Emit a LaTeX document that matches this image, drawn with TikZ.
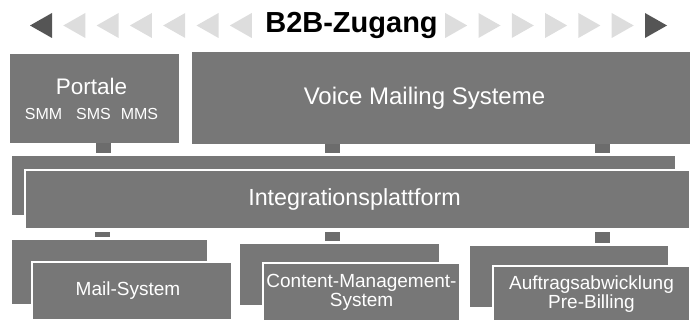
\documentclass[tikz,border=0pt]{standalone}
\usepackage{fontspec}
\setmainfont{Liberation Sans}
\usetikzlibrary{positioning, calc}
\definecolor{box-gray}{RGB}{119,119,119}
\definecolor{link-gray}{RGB}{108,108,108}
\definecolor{arrow-light}{RGB}{221,221,221}
\definecolor{arrow-dark}{RGB}{85,85,85}

\begin{document}
\begin{tikzpicture}[
    x=1pt, y=-1pt,
    block/.style={rectangle, fill=box-gray, text=white, inner sep=0pt, outer sep=0pt, align=center, font=\fontsize{22.5}{25}\selectfont},
    back/.style={rectangle, fill=box-gray, inner sep=0pt, outer sep=0pt},
    front/.style={rectangle, fill=box-gray, draw=white, line width=2pt, text=white, inner sep=0pt, outer sep=0pt, align=center, font=\fontsize{19}{19}\selectfont},
    title/.style={font=\bfseries\fontsize{29}{31}\selectfont, inner sep=0pt},
    link/.style={draw=link-gray, line width=15pt}
]
\clip (0,0) rectangle (695,320);

% Header
\node[title, anchor=base] (title) at (351.5,33) {B2B-Zugang};
\fill[arrow-dark] (52,13) -- (52,38) -- (30,25.5) -- cycle;
\fill[arrow-dark] (645,13) -- (645,38) -- (667,25.5) -- cycle;
\foreach \k in {1,...,6} {
  \fill[arrow-light] ({52+33.3*\k},13) -- ++(0,25) -- ++(-22,-12.5) -- cycle;
  \fill[arrow-light] ({645-33.3*\k},13) -- ++(0,25) -- ++(22,-12.5) -- cycle;
}

% Top row
\node[block, minimum width=169pt, minimum height=89pt] (portale) at (94.5,98.5)
  {\hspace*{-6pt}Portale\\{\fontsize{16}{18}\selectfont\hspace*{-6pt}SMM\hspace{14pt}SMS\hspace{10pt}MMS}};
\node[block, font=\fontsize{24}{26}\selectfont, minimum width=498pt, minimum height=92pt, right=13pt of portale] (voice) {\hspace*{-33pt}Voice Mailing Systeme};

% Integration
\node[back, minimum width=663pt, minimum height=59pt] (intback) at (343.5,185.5) {};
\node[front, font=\fontsize{23.3}{25}\selectfont, minimum width=665pt, minimum height=59pt, below right=14pt and 13pt of intback.north west] (intfront) {\hspace*{-6pt}Integrationsplattform};

% Bottom row
\node[back, minimum width=195pt, minimum height=64pt] (mailback) at (109.5,272) {};
\node[front, minimum width=200pt, minimum height=58pt, below right=22pt and 20pt of mailback.north west] (mailfront) {\hspace*{-8pt}Mail-System};

\node[back, minimum width=199pt, minimum height=61pt] (cmback) at (339.5,274.5) {};
\node[front, minimum width=197pt, minimum height=58pt, below right=19pt and 23pt of cmback.north west] (cmfront) {Content-Management-\\System};

\node[back, minimum width=198pt, minimum height=61pt] (abback) at (569,276.5) {};
\node[front, minimum width=197pt, minimum height=56pt, below right=20pt and 23pt of abback.north west] (abfront) {Auftragsabwicklung\\Pre-Billing};

% Links
\draw[link, shorten >=3pt] ([xshift=8.5pt]portale.south) -- ([xshift=8.5pt]portale.south |- intback.north);
\draw[link, shorten >=3pt] ([xshift=-108.5pt]voice.south) -- ([xshift=-108.5pt]voice.south |- intback.north);
\draw[link, shorten >=3pt] ([xshift=161.5pt]voice.south) -- ([xshift=161.5pt]voice.south |- intback.north);
\draw[link, shorten <=3pt, shorten >=3pt] ([xshift=-255pt]intfront.south) -- ([xshift=-255pt]intfront.south |- mailback.north);
\draw[link, shorten <=3pt, shorten >=3pt] ([xshift=-25pt]intfront.south) -- ([xshift=-25pt]intfront.south |- cmback.north);
\draw[link, shorten <=3pt, shorten >=3pt] ([xshift=245pt]intfront.south) -- ([xshift=245pt]intfront.south |- abback.north);

\end{tikzpicture}
\end{document}
